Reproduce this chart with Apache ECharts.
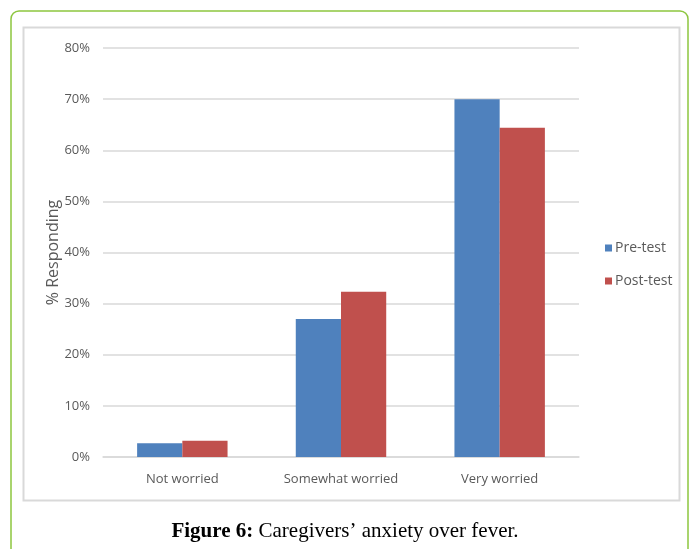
<!DOCTYPE html>
<html>
<head>
<meta charset="utf-8">
<script src="https://cdn.jsdelivr.net/npm/echarts@6/dist/echarts.min.js"></script>
<style>
html,body{margin:0;padding:0;background:#fff;}
#c{width:690px;height:549px;}
</style>
</head>
<body>
<div id="c"></div>
<script>
var categories = ['Not worried', 'Somewhat worried', 'Very worried'];
var preTest = [2.7, 27.0, 70.0];
var postTest = [3.2, 32.3, 64.4];
var seriesNames = ['Pre-test', 'Post-test'];
var yTicks = { min: 0, max: 80, interval: 10 };

var chart = echarts.init(document.getElementById('c'), null, {renderer: 'canvas'});
var labelFont = '"Open Sans", "Noto Sans", sans-serif';
chart.setOption({
  animation: false,
  backgroundColor: '#fff',
  graphic: [
    {
      type: 'rect', z: -10,
      shape: {x: 11, y: 11, width: 677, height: 560, r: 8},
      style: {fill: '#fff', stroke: '#8dc63f', lineWidth: 1.5}
    },
    {
      type: 'rect', z: -9,
      shape: {x: 23.5, y: 27.5, width: 656, height: 473},
      style: {fill: '#fff', stroke: '#d9d9d9', lineWidth: 2}
    },
    {
      type: 'text', z: 10,
      left: 'center', top: 521,
      style: {
        text: '{b|Figure 6:} Caregivers\u2019 anxiety over fever.',
        rich: {
          b: {fontFamily: '"Liberation Serif", "Times New Roman", serif', fontSize: 21, fontWeight: 'bold', fill: '#000'}
        },
        fontFamily: '"Liberation Serif", "Times New Roman", serif',
        fontSize: 21,
        fill: '#000'
      }
    }
  ],
  legend: {
    orient: 'vertical',
    left: 600, top: 236,
    itemWidth: 7, itemHeight: 7, itemGap: 19,
    icon: 'rect',
    textStyle: {color: '#595959', fontSize: 14, fontFamily: labelFont, padding: [0,0,0,-2]},
    data: seriesNames
  },
  grid: {left: 103, right: 111, top: 48, bottom: 92},
  xAxis: {
    type: 'category',
    data: categories,
    axisLine: {lineStyle: {color: '#d9d9d9', width: 1.5}},
    axisTick: {show: false},
    axisLabel: {color: '#595959', fontSize: 13, fontFamily: labelFont, margin: 16}
  },
  yAxis: {
    type: 'value',
    min: yTicks.min, max: yTicks.max, interval: yTicks.interval,
    name: '% Responding',
    nameLocation: 'middle',
    nameGap: 42,
    nameMoveOverlap: false,
    nameTextStyle: {color: '#595959', fontSize: 16, fontFamily: labelFont},
    axisLine: {show: false},
    axisTick: {show: false},
    axisLabel: {color: '#595959', fontSize: 13, fontFamily: labelFont, margin: 13, formatter: '{value}%'},
    splitLine: {lineStyle: {color: '#d9d9d9', width: 1.5}}
  },
  series: [
    {name: seriesNames[0], type: 'bar', data: preTest, barGap: '0%', barCategoryGap: '43%', itemStyle: {color: '#4f81bd'}},
    {name: seriesNames[1], type: 'bar', data: postTest, barGap: '0%', barCategoryGap: '43%', itemStyle: {color: '#c0504d'}}
  ]
});
</script>
</body>
</html>
